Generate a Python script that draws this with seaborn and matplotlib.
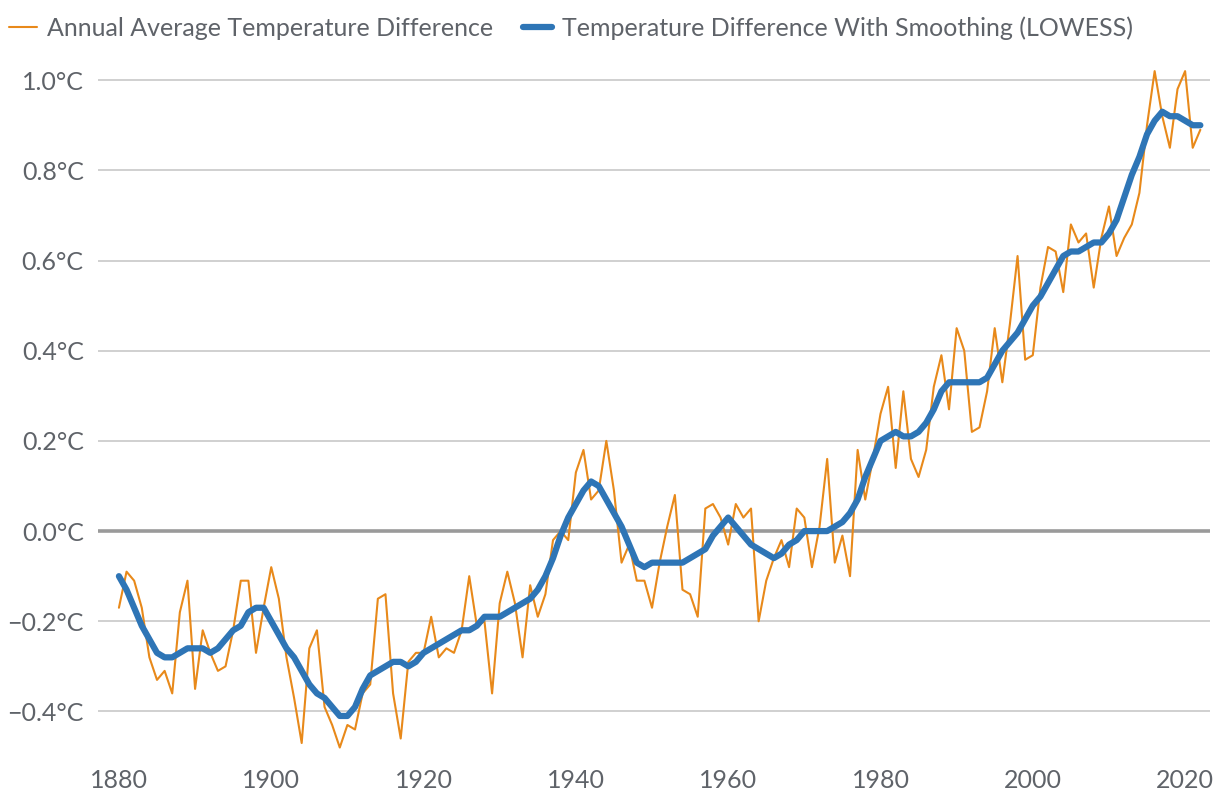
import numpy as np
import pandas as pd
import seaborn as sns
import matplotlib.pyplot as plt
from matplotlib.ticker import FuncFormatter, MultipleLocator

years = list(range(1880, 2023))

annual = [
    -0.17, -0.09, -0.11, -0.17, -0.28, -0.33, -0.31, -0.36, -0.18, -0.11,
    -0.35, -0.22, -0.27, -0.31, -0.30, -0.22, -0.11, -0.11, -0.27, -0.17,
    -0.08, -0.15, -0.28, -0.37, -0.47, -0.26, -0.22, -0.39, -0.43, -0.48,
    -0.43, -0.44, -0.36, -0.34, -0.15, -0.14, -0.36, -0.46, -0.29, -0.27,
    -0.27, -0.19, -0.28, -0.26, -0.27, -0.22, -0.10, -0.21, -0.20, -0.36,
    -0.16, -0.09, -0.16, -0.28, -0.12, -0.19, -0.14, -0.02, -0.00, -0.02,
    0.13, 0.18, 0.07, 0.09, 0.20, 0.09, -0.07, -0.03, -0.11, -0.11,
    -0.17, -0.07, 0.01, 0.08, -0.13, -0.14, -0.19, 0.05, 0.06, 0.03,
    -0.03, 0.06, 0.03, 0.05, -0.20, -0.11, -0.06, -0.02, -0.08, 0.05,
    0.03, -0.08, 0.01, 0.16, -0.07, -0.01, -0.10, 0.18, 0.07, 0.16,
    0.26, 0.32, 0.14, 0.31, 0.16, 0.12, 0.18, 0.32, 0.39, 0.27,
    0.45, 0.40, 0.22, 0.23, 0.31, 0.45, 0.33, 0.46, 0.61, 0.38,
    0.39, 0.54, 0.63, 0.62, 0.53, 0.68, 0.64, 0.66, 0.54, 0.65,
    0.72, 0.61, 0.65, 0.68, 0.75, 0.90, 1.02, 0.92, 0.85, 0.98,
    1.02, 0.85, 0.89,
]

smoothed = [
    -0.10, -0.13, -0.17, -0.21, -0.24, -0.27, -0.28, -0.28, -0.27, -0.26,
    -0.26, -0.26, -0.27, -0.26, -0.24, -0.22, -0.21, -0.18, -0.17, -0.17,
    -0.20, -0.23, -0.26, -0.28, -0.31, -0.34, -0.36, -0.37, -0.39, -0.41,
    -0.41, -0.39, -0.35, -0.32, -0.31, -0.30, -0.29, -0.29, -0.30, -0.29,
    -0.27, -0.26, -0.25, -0.24, -0.23, -0.22, -0.22, -0.21, -0.19, -0.19,
    -0.19, -0.18, -0.17, -0.16, -0.15, -0.13, -0.10, -0.06, -0.01, 0.03,
    0.06, 0.09, 0.11, 0.10, 0.07, 0.04, 0.01, -0.03, -0.07, -0.08,
    -0.07, -0.07, -0.07, -0.07, -0.07, -0.06, -0.05, -0.04, -0.01, 0.01,
    0.03, 0.01, -0.01, -0.03, -0.04, -0.05, -0.06, -0.05, -0.03, -0.02,
    0.00, 0.00, 0.00, 0.00, 0.01, 0.02, 0.04, 0.07, 0.12, 0.16,
    0.20, 0.21, 0.22, 0.21, 0.21, 0.22, 0.24, 0.27, 0.31, 0.33,
    0.33, 0.33, 0.33, 0.33, 0.34, 0.37, 0.40, 0.42, 0.44, 0.47,
    0.50, 0.52, 0.55, 0.58, 0.61, 0.62, 0.62, 0.63, 0.64, 0.64,
    0.66, 0.69, 0.74, 0.79, 0.83, 0.88, 0.91, 0.93, 0.92, 0.92,
    0.91, 0.90, 0.90,
]

labels = ["Annual Average Temperature Difference",
          "Temperature Difference With Smoothing (LOWESS)"]

df = pd.DataFrame({"year": years, labels[0]: annual, labels[1]: smoothed})

sns.set_theme(style="white")
plt.rcParams['font.family'] = ['Lato', 'DejaVu Sans']
text_col = "#5f6369"

fig, ax = plt.subplots(figsize=(12.2, 8), dpi=100)
fig.subplots_adjust(left=0.08, right=0.992, top=0.928, bottom=0.056)

sns.lineplot(data=df, x="year", y=labels[0], color="#e8891a", linewidth=1.5,
             label=labels[0], ax=ax, zorder=3)
sns.lineplot(data=df, x="year", y=labels[1], color="#2e75b6", linewidth=4.5,
             label=labels[1], ax=ax, zorder=4, solid_capstyle="round")

ax.set_xlim(1877.2, 2023.3)
ax.set_ylim(-0.497, 1.05)
ax.xaxis.set_major_locator(MultipleLocator(20))
ax.yaxis.set_major_locator(MultipleLocator(0.2))
ax.yaxis.set_major_formatter(FuncFormatter(lambda v, p: f"{v:.1f}°C".replace("-", "\u2212")))
ax.set_xlabel("")
ax.set_ylabel("")

ax.grid(axis="y", color="#d0d0d0", linewidth=1.4)
ax.axhline(0, color="#9a9a9a", linewidth=2.6, zorder=2)
for s in ax.spines.values():
    s.set_visible(False)
ax.tick_params(axis="both", length=0, labelsize=18, labelcolor=text_col, pad=10)

leg = ax.legend(loc="lower left", bbox_to_anchor=(-0.08, 1.025), ncol=2, frameon=False,
                fontsize=18, handlelength=1.15, handletextpad=0.4, columnspacing=1.2,
                borderaxespad=0, borderpad=0)
for t in leg.get_texts():
    t.set_color(text_col)

fig.savefig("out.png", dpi=100)
